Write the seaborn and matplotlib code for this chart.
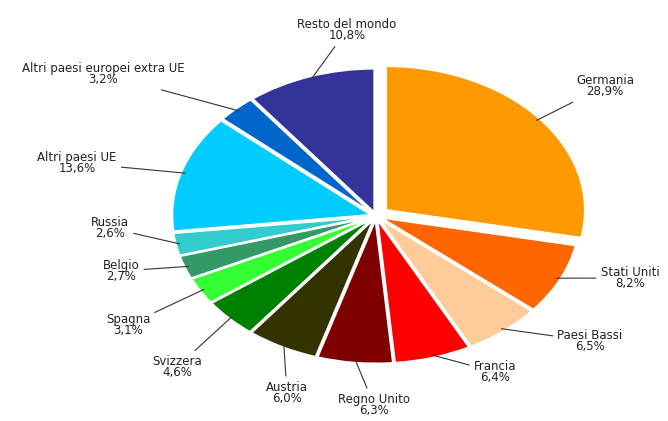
import numpy as np
import matplotlib
matplotlib.use("Agg")
import matplotlib.pyplot as plt
import seaborn as sns

# ---- data ----
categories = ["Germania", "Stati Uniti", "Paesi Bassi", "Francia", "Regno Unito",
              "Austria", "Svizzera", "Spagna", "Belgio", "Russia",
              "Altri paesi UE", "Altri paesi europei extra UE", "Resto del mondo"]
values = [28.9, 8.2, 6.5, 6.4, 6.3, 6.0, 4.6, 3.1, 2.7, 2.6, 13.6, 3.2, 10.8]

# ---- style ----
colors = ["#FF9900", "#FF6600", "#FFCC99", "#FF0000", "#800000",
          "#333300", "#008000", "#33FF33", "#339966", "#33CCCC",
          "#00CCFF", "#0066CC", "#333399"]
explode = [0.065] + [0.025] * 12
# label centres in figure pixels (from top-left)
label_pos = [(605, 86), (630, 278), (590, 341), (495, 372), (374, 405),
             (287, 393), (177, 367), (128, 325), (121, 271), (110, 228),
             (77, 163), (103, 74), (347, 30)]

sns.set_theme(style="white")
plt.rcParams['font.family'] = ['DejaVu Sans']

W, H = 668, 421
fig = plt.figure(figsize=(W / 100, H / 100), dpi=100)
ax = fig.add_axes([0, 0, 1, 1])

wedges, _ = ax.pie(values, colors=colors, explode=explode, startangle=90,
                   counterclock=False,
                   wedgeprops=dict(edgecolor="white", linewidth=1.5))

ax.set_aspect("auto")
cx, cy = 376, 216
sx, sy = 199, 144
ax.set_xlim(-cx / sx, (W - cx) / sx)
ax.set_ylim(-(H - cy) / sy, cy / sy)
ax.axis("off")

for w, name, v, (lx, ly) in zip(wedges, categories, values, label_pos):
    mid = np.deg2rad((w.theta1 + w.theta2) / 2)
    ox, oy = w.center
    ax_pt = (ox + 0.98 * np.cos(mid), oy + 0.98 * np.sin(mid))
    txt = f"{name}\n{v:.1f}".replace(".", ",") + "%"
    ax.annotate(txt, xy=ax_pt, xytext=(lx, H - ly), textcoords="figure pixels",
                ha="center", va="center", fontsize=8.5, color="#222222",
                linespacing=0.85,
                arrowprops=dict(arrowstyle="-", color="#333333", lw=0.8,
                                shrinkA=1, shrinkB=0))

fig.savefig("out.png", dpi=100, facecolor="white")
